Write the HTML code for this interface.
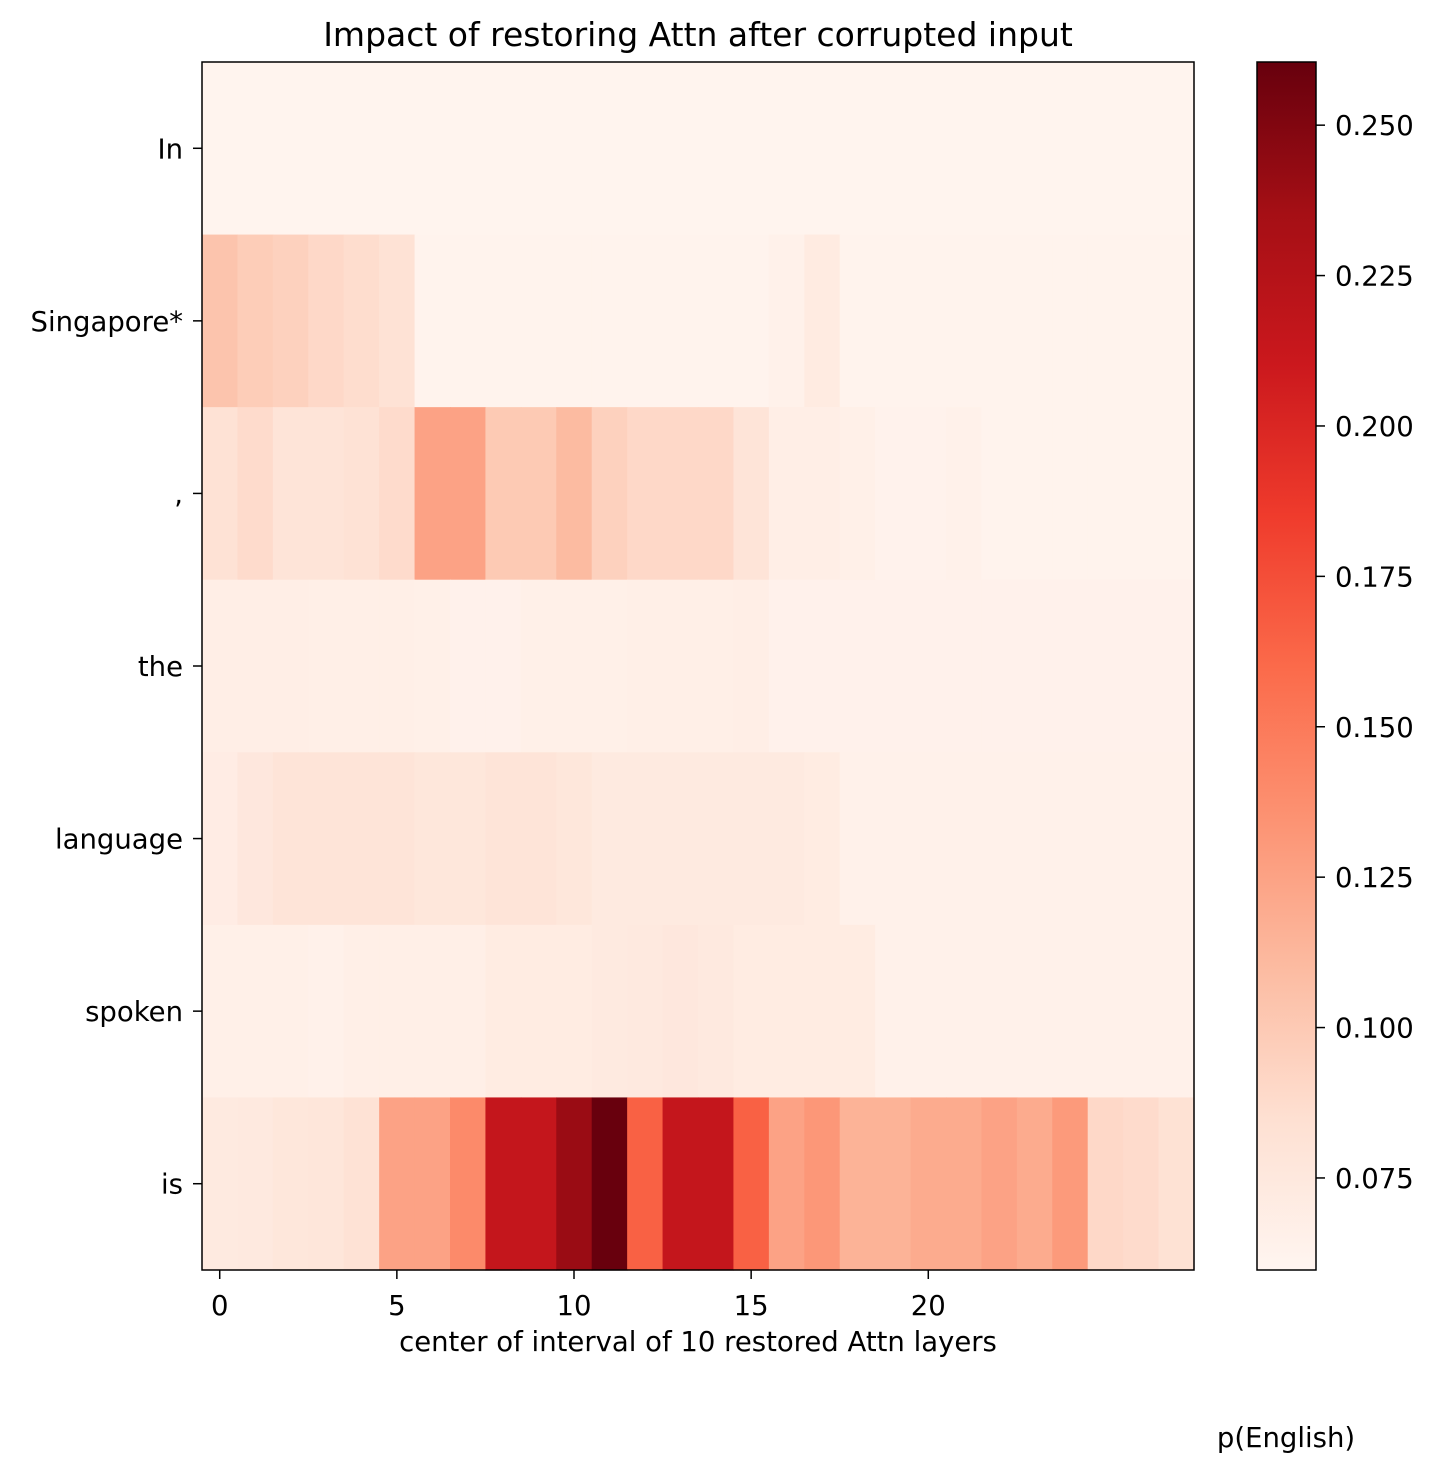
<!DOCTYPE html>
<html><head><meta charset="utf-8">
<style>
body{margin:0;background:#fff;}
svg text{font-family:"DejaVu Sans","Liberation Sans",sans-serif;fill:#000;}
</style></head>
<body>
<svg id="chart" width="1435" height="1473" viewBox="0 0 1435 1473" xmlns="http://www.w3.org/2000/svg">
<defs>
<linearGradient id="cbgrad" x1="0" y1="1" x2="0" y2="0">
<stop offset="0" stop-color="#fff5f0"/><stop offset="0.125" stop-color="#fee0d2"/>
<stop offset="0.25" stop-color="#fcbba1"/><stop offset="0.375" stop-color="#fc9272"/>
<stop offset="0.5" stop-color="#fb6a4a"/><stop offset="0.625" stop-color="#ef3b2c"/>
<stop offset="0.75" stop-color="#cb181d"/><stop offset="0.875" stop-color="#a50f15"/>
<stop offset="1" stop-color="#67000d"/>
</linearGradient>
</defs>
<text x="698" y="46" font-size="33" text-anchor="middle">Impact of restoring Attn after corrupted input</text>
<g id="cells"></g>
<rect x="202" y="62" width="992" height="1208" fill="none" stroke="#000" stroke-width="1.5"/>
<g id="yaxis"></g>
<g id="xaxis"></g>
<text x="698" y="1351" font-size="27.5" text-anchor="middle">center of interval of 10 restored Attn layers</text>
<rect x="1257" y="62" width="59" height="1208" fill="url(#cbgrad)" stroke="#000" stroke-width="1.5"/>
<g id="cbaxis"></g>
<text x="1286" y="1447" font-size="27.5" text-anchor="middle">p(English)</text>
</svg>
<script>
const tokens = ["In","Singapore*",",","the","language","spoken","is"];
const xTicks = [0,5,10,15,20];
const cbTicks = [0.075,0.100,0.125,0.150,0.175,0.200,0.225,0.250];
const rowIn = [0.061,0.061,0.061,0.061,0.061,0.061,0.061,0.061,0.061,0.061,0.061,0.061,0.061,0.061,0.061,0.061,0.061,0.061,0.061,0.061,0.061,0.061,0.061,0.061,0.061,0.061,0.061,0.061];
const rowSingapore = [0.104,0.098,0.095,0.090,0.087,0.082,0.062,0.062,0.062,0.062,0.062,0.062,0.062,0.062,0.062,0.062,0.065,0.072,0.062,0.062,0.062,0.062,0.062,0.062,0.062,0.062,0.062,0.062];
const rowComma = [0.082,0.088,0.080,0.080,0.082,0.088,0.125,0.125,0.100,0.100,0.110,0.095,0.090,0.090,0.090,0.080,0.068,0.068,0.066,0.063,0.063,0.065,0.062,0.062,0.062,0.062,0.062,0.062];
const rowThe = [0.068,0.068,0.068,0.067,0.067,0.067,0.066,0.064,0.064,0.066,0.066,0.066,0.067,0.067,0.067,0.068,0.064,0.064,0.064,0.064,0.064,0.064,0.064,0.064,0.064,0.064,0.064,0.064];
const rowLanguage = [0.070,0.076,0.080,0.080,0.080,0.080,0.077,0.077,0.080,0.080,0.077,0.073,0.073,0.073,0.073,0.073,0.073,0.071,0.065,0.065,0.065,0.065,0.065,0.065,0.065,0.065,0.065,0.065];
const rowSpoken = [0.066,0.066,0.066,0.065,0.067,0.067,0.067,0.067,0.071,0.071,0.071,0.073,0.074,0.076,0.074,0.071,0.071,0.071,0.071,0.065,0.065,0.065,0.065,0.065,0.065,0.065,0.065,0.065];
const rowIs = [0.073,0.074,0.077,0.078,0.082,0.125,0.125,0.140,0.215,0.215,0.240,0.260,0.165,0.215,0.215,0.165,0.125,0.132,0.115,0.115,0.120,0.120,0.125,0.120,0.130,0.090,0.088,0.083];
const rows = [rowIn,rowSingapore,rowComma,rowThe,rowLanguage,rowSpoken,rowIs];
const vmin = 0.0597, vmax = 0.2605;

const NS="http://www.w3.org/2000/svg";
const px0=202, px1=1194, py0=62, py1=1270, nCols=28;
const cw=(px1-px0)/nCols, rh=(py1-py0)/tokens.length;
const xScale = i => px0 + (i+0.5)*cw;
const yScale = r => py0 + (r+0.5)*rh;
const cbY = v => py1 - (v-vmin)/(vmax-vmin)*(py1-py0);
const stops=["#fff5f0","#fee0d2","#fcbba1","#fc9272","#fb6a4a","#ef3b2c","#cb181d","#a50f15","#67000d"].map(h=>[parseInt(h.substr(1,2),16),parseInt(h.substr(3,2),16),parseInt(h.substr(5,2),16)]);
function color(v){
  let t=Math.max(0,Math.min(1,(v-vmin)/(vmax-vmin)))*8;
  let i=Math.min(7,Math.floor(t)),f=t-i;
  const c=stops[i].map((a,k)=>Math.round(a+(stops[i+1][k]-a)*f));
  return `rgb(${c[0]},${c[1]},${c[2]})`;
}
function mk(tag,attrs,parent){const e=document.createElementNS(NS,tag);for(const k in attrs)e.setAttribute(k,attrs[k]);parent.appendChild(e);return e;}
const cells=document.getElementById('cells');
rows.forEach((row,r)=>row.forEach((v,i)=>{
  const e=mk('rect',{x:(xScale(i)-cw/2).toFixed(2),y:(yScale(r)-rh/2).toFixed(2),width:(cw+0.6).toFixed(2),height:(rh+0.6).toFixed(2),fill:color(v)},cells);
  
  
}));
const ya=document.getElementById('yaxis');
tokens.forEach((t,r)=>{
  const y=yScale(r);
  const l=mk('line',{x1:193,x2:202,y1:y,y2:y,stroke:'#000','stroke-width':1.5},ya);
  
  
  const tx=mk('text',{x:183,y:y+10,'font-size':27.5,'text-anchor':'end'},ya);
  tx.textContent=t;
  
  
});
const xa=document.getElementById('xaxis');
xTicks.forEach(v=>{
  const x=xScale(v);
  const l=mk('line',{x1:x,x2:x,y1:1270,y2:1279,stroke:'#000','stroke-width':1.5},xa);
  
  
  const tx=mk('text',{x:x,y:1315,'font-size':27.5,'text-anchor':'middle'},xa);
  tx.textContent=v;
  
  
});
const ca=document.getElementById('cbaxis');
cbTicks.forEach(v=>{
  const y=cbY(v);
  const l=mk('line',{x1:1316,x2:1325,y1:y,y2:y,stroke:'#000','stroke-width':1.5},ca);
  
  
  const tx=mk('text',{x:1335,y:y+10,'font-size':27.5},ca);
  tx.textContent=v.toFixed(3);
  
  
});
</script>
</body></html>
